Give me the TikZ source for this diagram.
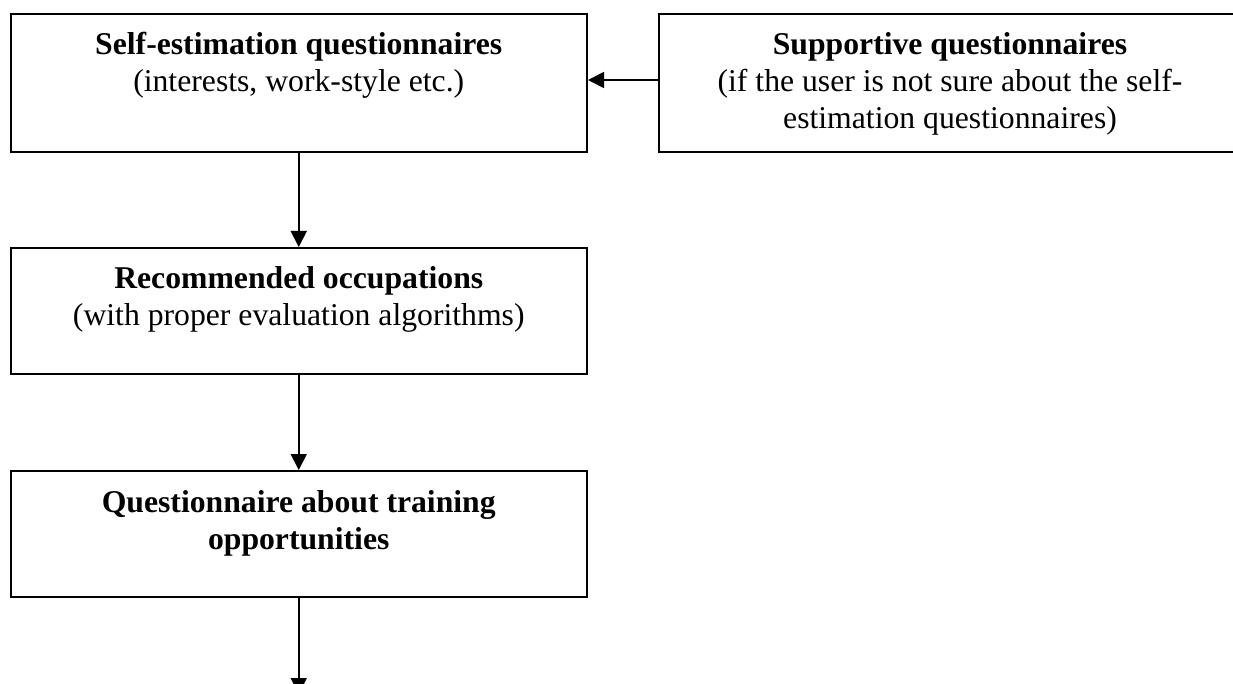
\documentclass[tikz,border=0pt]{standalone}
\usepackage{fontspec}
\setmainfont{Liberation Serif}
\usetikzlibrary{arrows.meta}
\tikzset{
  box/.style={draw=black, line width=2pt, rectangle, inner sep=0pt, fill=white},
  lbl/.style={anchor=base, inner sep=0pt, font=\fontsize{31.7}{37}\selectfont},
  arr/.style={draw=black, line width=1.8pt, -{Triangle[length=16pt,width=16pt]}}
}
\begin{document}
\begin{tikzpicture}[x=1pt,y=-1pt]
\useasboundingbox (0,0) rectangle (1233,684);
\clip (0,0) rectangle (1233,684);
\fill[white] (0,0) rectangle (1233,684);
% boxes
\node[box, minimum width=576.5pt, minimum height=138pt] (self) at (298.75,83) {};
\node[box, minimum width=582pt, minimum height=138pt] (sup) at (950,83) {};
\node[box, minimum width=576.5pt, minimum height=126pt] (rec) at (298.75,311) {};
\node[box, minimum width=576.5pt, minimum height=126pt] (train) at (298.75,534) {};
\coordinate (end) at (298.75,694);
% texts
\node[lbl] (t1a) at (298.75,55) {\bfseries Self-estimation questionnaires};
\node[lbl] (t1b) at (298.75,92) {(interests, work-style etc.)};
\node[lbl] (t2a) at (950,55) {\bfseries Supportive questionnaires};
\node[lbl] (t2b) at (950,92) {(if the user is not sure about the self-};
\node[lbl] (t2c) at (950,129) {estimation questionnaires)};
\node[lbl] (t3a) at (298.75,289) {\bfseries Recommended occupations};
\node[lbl] (t3b) at (298.75,326) {(with proper evaluation algorithms)};
\node[lbl] (t4a) at (298.75,512) {\bfseries Questionnaire about training};
\node[lbl] (t4b) at (298.75,549) {\bfseries opportunities};
% connectors
\draw[arr] ([yshift=3pt]sup.west) -- ([yshift=3pt]self.east);
\draw[arr] (self.south) -- (rec.north);
\draw[arr] (rec.south) -- (train.north);
\draw[arr] (train.south) -- (end);
\end{tikzpicture}
\end{document}
